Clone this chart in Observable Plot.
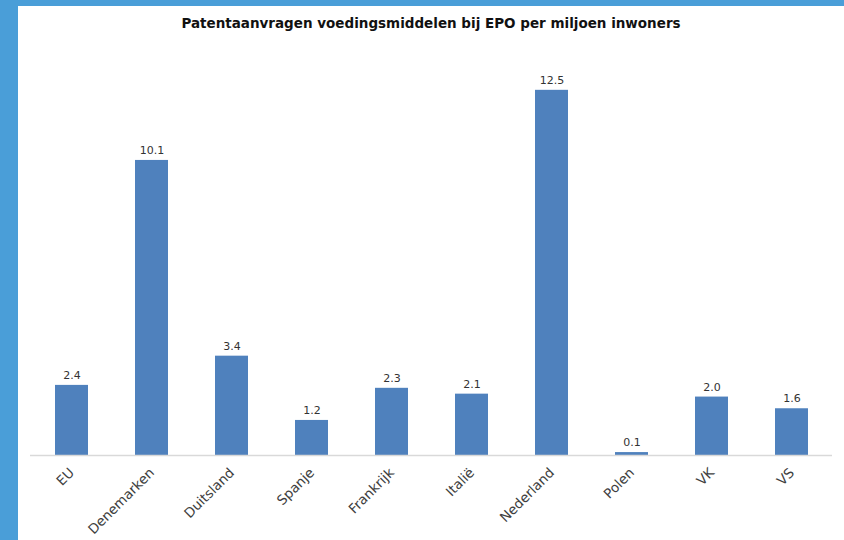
<!DOCTYPE html>
<html>
<head>
<meta charset="utf-8">
<script src="https://cdn.jsdelivr.net/npm/d3@7"></script>
<script src="https://cdn.jsdelivr.net/npm/@observablehq/plot@0.6"></script>
<style>
  html, body { margin: 0; padding: 0; }
  body { width: 844px; height: 540px; background: #4a9ed8; position: relative; overflow: hidden; font-family: "DejaVu Sans", Verdana, sans-serif; }
  #panel { position: absolute; left: 18px; top: 6px; width: 826px; height: 534px; background: #fff; }
  #title { height: 34px; line-height: 34px; text-align: center; font-weight: bold; font-size: 13.5px; color: #111; }
</style>
</head>
<body>
<div id="panel">
  <div id="title">Patentaanvragen voedingsmiddelen bij EPO per miljoen inwoners</div>
  <div id="chart"></div>
</div>
<script>
const categories = ["EU", "Denemarken", "Duitsland", "Spanje", "Frankrijk", "Italië", "Nederland", "Polen", "VK", "VS"];
const values = [2.4, 10.1, 3.4, 1.2, 2.3, 2.1, 12.5, 0.1, 2.0, 1.6];
const labels = ["2.4", "10.1", "3.4", "1.2", "2.3", "2.1", "12.5", "0.1", "2.0", "1.6"];

const data = categories.map((c, i) => ({ c, v: values[i], t: labels[i] }));

const chart = Plot.plot({
  width: 826,
  height: 500,
  marginTop: 6,
  marginBottom: 85,
  marginLeft: 12,
  marginRight: 12,
  style: { fontFamily: "DejaVu Sans, Verdana, sans-serif", background: "#fff", overflow: "visible" },
  x: { domain: categories, paddingInner: 0.59, paddingOuter: 0.295, label: null },
  y: { domain: [0, 14], axis: null },
  marks: [
    Plot.barY(data, { x: "c", y: "v", fill: "#4f81bd" }),
    Plot.ruleY([0], { stroke: "#d9d9d9", strokeWidth: 1.5 }),
    Plot.text(data, { x: "c", y: "v", text: "t", dy: -10, fontSize: 11, fill: "#333" }),
    Plot.axisX({ tickSize: 0, tickRotate: -45, tickPadding: 15, fontSize: 13.5, fill: "#404040", label: null })
  ]
});
document.getElementById("chart").appendChild(chart);
</script>
</body>
</html>
